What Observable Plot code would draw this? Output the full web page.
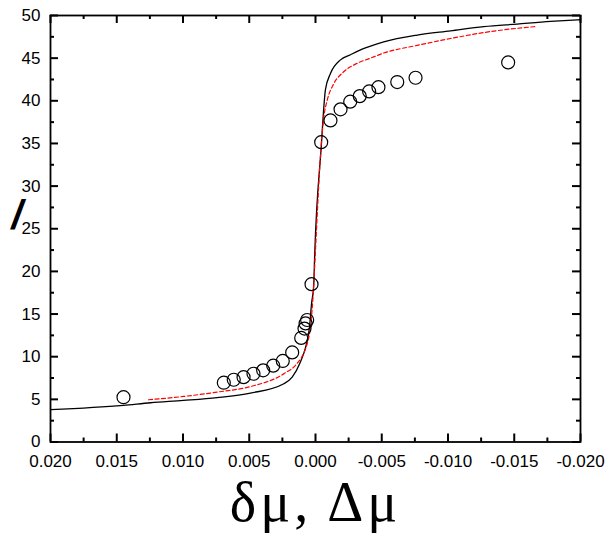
<!DOCTYPE html>
<html><head><meta charset="utf-8">
<script src="https://cdn.jsdelivr.net/npm/d3@7"></script>
<script src="https://cdn.jsdelivr.net/npm/@observablehq/plot@0.6"></script>
<style>body{margin:0;background:#fff}</style>
</head><body><div id="chart"></div>
<script>
// Measured points (circles)
const ptX = [0.01449, 0.00692, 0.00617, 0.00543, 0.00468, 0.00395, 0.00319, 0.00247, 0.00176, 0.00108, 0.00083, 0.00075, 0.00063, 0.0003, -0.00043, -0.00113, -0.00189, -0.00262, -0.00334, -0.00405, -0.00475, -0.00617, -0.00755, -0.01454];
const ptY = [5.25, 6.95, 7.3, 7.6, 8.0, 8.4, 8.95, 9.5, 10.5, 12.2, 13.3, 13.9, 14.3, 18.5, 35.15, 37.7, 39.0, 39.9, 40.55, 41.1, 41.6, 42.2, 42.7, 44.5];
// Black solid curve
const blackX = [0.020, 0.0145, 0.01245, 0.00996, 0.00742, 0.00491, 0.00239, 0.00176, 0.00113, 0.00075, 0.00045, 0.0003, 0.00013, 0.000075, -0.00045, -0.00063, -0.00075, -0.00113, -0.00189, -0.00264, -0.00315, -0.00415, -0.00515, -0.00768, -0.01019, -0.0127, -0.01522, -0.01774, -0.020];
const blackY = [3.8, 4.3, 4.6, 4.87, 5.2, 5.73, 6.83, 7.6, 9.4, 11.1, 13.5, 16.2, 18.5, 21.3, 35.0, 39.3, 41.3, 43.2, 44.8, 45.4, 45.8, 46.4, 46.9, 47.7, 48.2, 48.7, 49.0, 49.3, 49.5];
// Red dashed curve
const redX = [0.0126, 0.00996, 0.00742, 0.00491, 0.00239, 0.00139, 0.00089, 0.00063, 0.00038, 0.00013, 0.00005, -0.00045, -0.00063, -0.00089, -0.00138, -0.00213, -0.00315, -0.00415, -0.00515, -0.00768, -0.01019, -0.0127, -0.01522, -0.0166];
const redY = [4.95, 5.34, 5.85, 6.5, 8.0, 9.2, 10.4, 11.5, 13.5, 18.5, 21, 35.2, 38.1, 40.1, 42.0, 43.4, 44.4, 45.0, 45.6, 46.5, 47.3, 48.0, 48.5, 48.7];
// Ticks
const xTicks = [0.020, 0.015, 0.010, 0.005, 0, -0.005, -0.010, -0.015, -0.020];
const xTickLabels = ["0.020", "0.015", "0.010", "0.005", "0.000", "-0.005", "-0.010", "-0.015", "-0.020"];
const xMinor = [0.0175, 0.0125, 0.0075, 0.0025, -0.0025, -0.0075, -0.0125, -0.0175];
const yTicks = [0, 5, 10, 15, 20, 25, 30, 35, 40, 45, 50];
const yTickLabels = ["0", "5", "10", "15", "20", "25", "30", "35", "40", "45", "50"];
const yMinor = [2.5, 7.5, 12.5, 17.5, 22.5, 27.5, 32.5, 37.5, 42.5, 47.5];
const xTitle = "δμ, Δμ";
const yTitle = "/";

const pts = ptX.map((x, i) => ({x, y: ptY[i]}));
const black = blackX.map((x, i) => ({x, y: blackY[i]}));
const red = redX.map((x, i) => ({x, y: redY[i]}));

const W = 608, H = 535, mL = 50, mR = 28, mT = 15, mB = 93.5;
const fw = W - mL - mR, fh = H - mT - mB;
const major = 8, minor = 4;
const tk = {stroke: "black", strokeWidth: 2};

const chart = Plot.plot({
  width: W, height: H,
  marginLeft: mL, marginRight: mR, marginTop: mT, marginBottom: mB,
  style: {fontFamily: "'Liberation Sans', Arial, sans-serif", fontSize: "17px", color: "black", background: "white"},
  x: {domain: [0.02, -0.02]},
  y: {domain: [0, 50]},
  marks: [
    Plot.line(black, {x: "x", y: "y", stroke: "black", strokeWidth: 1.3, curve: "monotone-x"}),
    Plot.line(red, {x: "x", y: "y", stroke: "red", strokeWidth: 1.2, strokeDasharray: "4,2.5", curve: "monotone-x"}),
    Plot.dot(pts, {x: "x", y: "y", r: 6.5, stroke: "black", strokeWidth: 1.2, fill: "none"}),
    // inward ticks: bottom & top
    Plot.tickX(xTicks, {x: d => d, insetTop: fh - major, ...tk}),
    Plot.tickX(xMinor, {x: d => d, insetTop: fh - minor, ...tk}),
    Plot.tickX(xTicks, {x: d => d, insetBottom: fh - major, ...tk}),
    Plot.tickX(xMinor, {x: d => d, insetBottom: fh - minor, ...tk}),
    // inward ticks: left & right
    Plot.tickY(yTicks, {y: d => d, insetRight: fw - major, ...tk}),
    Plot.tickY(yMinor, {y: d => d, insetRight: fw - minor, ...tk}),
    Plot.tickY(yTicks, {y: d => d, insetLeft: fw - major, ...tk}),
    Plot.tickY(yMinor, {y: d => d, insetLeft: fw - minor, ...tk}),
    Plot.frame({stroke: "black", strokeWidth: 1.8}),
    Plot.axisX({ticks: xTicks, tickSize: 0, tickPadding: 13, label: null, tickFormat: (d, i) => xTickLabels[i], fontSize: 17}),
    Plot.axisY({ticks: yTicks, tickSize: 0, tickPadding: 10, label: null, tickFormat: (d, i) => yTickLabels[i], fontSize: 17}),
    Plot.text([xTitle], {text: d => d, frameAnchor: "bottom", dy: 79, lineAnchor: "bottom", fontSize: 56, fontFamily: "'Liberation Serif', 'Times New Roman', serif"}),
    Plot.text([yTitle], {text: d => d, frameAnchor: "left", dx: -39, dy: -13, lineAnchor: "middle", fontSize: 40, fontWeight: "bold", fontStyle: "italic"})
  ]
});
d3.select(chart).selectAll("text").filter(function() { return this.textContent === xTitle; }).style("letter-spacing", "4px");
document.getElementById("chart").append(chart);
</script>
</body></html>
